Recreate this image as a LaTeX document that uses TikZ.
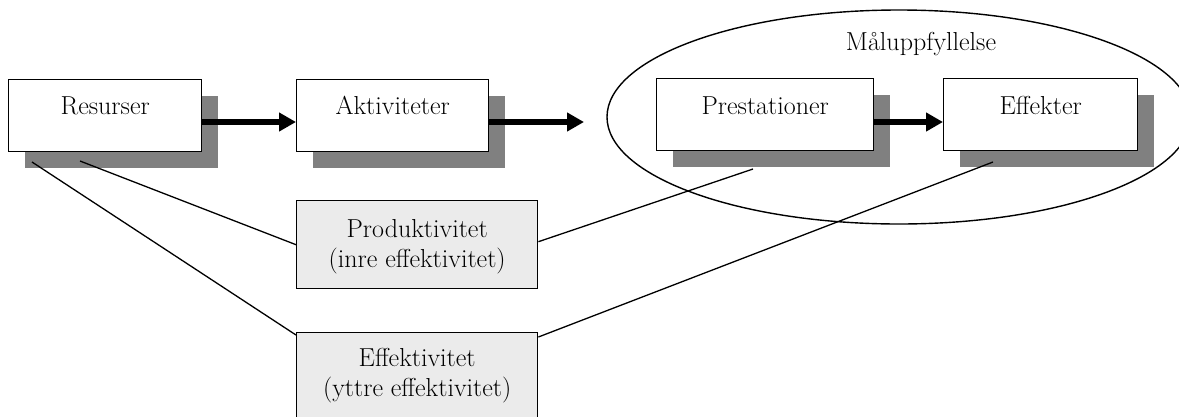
\documentclass[tikz,border=0pt]{standalone}
\usepackage{fontspec}
\usetikzlibrary{arrows.meta,calc,shadows,shapes.geometric}
\definecolor{boxshadow}{RGB}{128,128,128}
\definecolor{panelfill}{RGB}{235,235,235}
\begin{document}
\begin{tikzpicture}[x=1pt,y=-1pt,
  every node/.style={font=\fontsize{26}{31}\selectfont},
  stage/.style={draw,line width=1.4pt,fill=white,inner sep=0pt,minimum height=72pt,
    anchor=north west,
    drop shadow={shadow xshift=16pt,shadow yshift=-16pt,fill=boxshadow,opacity=1}},
  measure/.style={draw,line width=1.4pt,fill=panelfill,inner sep=0pt,
    anchor=north west,minimum width=241pt},
  flow/.style={line width=6.5pt,-{Triangle[length=17pt,width=18pt]}},
  link/.style={line width=1.3pt},
  boxtext/.style={anchor=base,inner sep=0pt}
]
\useasboundingbox (0,0) rectangle (1179,416);

% goal-attainment region
\node[draw,ellipse,line width=1.4pt,minimum width=584pt,minimum height=214pt,inner sep=0pt]
  (goal) at (899,117) {};
\node[boxtext] (tgoal) at (921,50) {Måluppfyllelse};

% chain of stages
\node[stage,minimum width=193pt] (res) at (8,79) {};
\node[stage,minimum width=192pt] (akt) at (296,79) {};
\node[stage,minimum width=217pt] (pre) at (656,78) {};
\node[stage,minimum width=194pt] (eff) at (943,78) {};

\node[boxtext] (tres) at (res.north |- 0,114) {Resurser};
\node[boxtext] (takt) at (akt.north |- 0,114) {Aktiviteter};
\node[boxtext] (tpre) at (pre.north |- 0,114) {Prestationer};
\node[boxtext] (teff) at (eff.north |- 0,114) {Effekter};

% measures
\node[measure,minimum height=88pt] (prod) at (296,200) {};
\node[measure,minimum height=90pt] (effek) at (296,332) {};
\node[boxtext] (tprod1) at (prod.north |- 0,237) {Produktivitet};
\node[boxtext] (tprod2) at (prod.north |- 0,267) {(inre effektivitet)};
\node[boxtext] (teffek1) at (effek.north |- 0,366) {Effektivitet};
\node[boxtext] (teffek2) at (effek.north |- 0,396) {(yttre effektivitet)};

% flow arrows
\coordinate (out) at (584,122);
\draw[flow] (res.east |- 0,122) -- (akt.west |- 0,122);
\draw[flow] (akt.east |- 0,122) -- (out);
\draw[flow] (pre.east |- 0,122) -- (eff.west |- 0,122);

% relation lines
\coordinate (r1) at (32,162);
\coordinate (r2) at (80,161);
\coordinate (p1) at (753,169);
\coordinate (e1) at (993,162);
\draw[link] (r2) -- (prod.west);
\draw[link] (r1) -- ($(effek.north west)+(0,3)$);
\draw[link] ($(prod.east)+(0,-3)$) -- (p1);
\draw[link] ($(effek.north east)+(0,5)$) -- (e1);
\end{tikzpicture}
\end{document}
